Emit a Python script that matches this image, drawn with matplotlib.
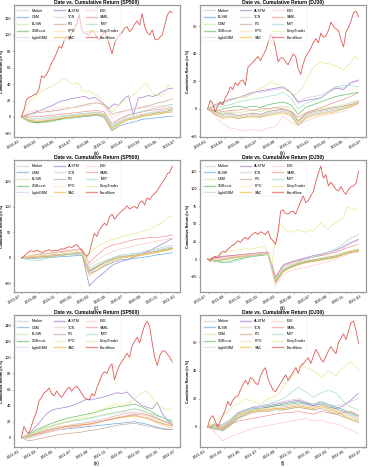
import matplotlib
matplotlib.use('Agg')
import matplotlib.pyplot as plt
import matplotlib.dates as mdates
from matplotlib.ticker import MultipleLocator
import pandas as pd

plt.rcParams['font.family'] = ['Liberation Sans', 'DejaVu Sans']

labels_sp = ['Market', 'CSM', 'BLSW', 'XGBoost', 'LightGBM', 'ALSTM', 'TCN', 'PG',
             'PPO', 'SAC', 'EIIE', 'SARL', 'IMIT', 'DeepTrader', 'EarnMore']
labels_dj = ['Market', 'BLSW', 'CSM', 'XGBoost', 'LightGBM', 'ALSTM', 'TCN', 'PG',
             'PPO', 'SAC', 'EIIE', 'SARL', 'IMIT', 'DeepTrader', 'EarnMore']

colors = ['#c8c8c8', '#5ba3d9', '#c2e699', '#55b755', '#d4c4e8', '#9b72c9', '#dcc8b8',
          '#c0a08a', '#fde4a6', '#f5b52e', '#fcc5c5', '#f28a86', '#98dcc4', '#e5e58a',
          '#d9473f']

# ---- (a) SP500 2018-01 .. 2019-06
a_vals = {
    'Market':   [0, -3, -6, -5, -3, -2, 0, 1, 2, 3, 4, 2, -15, -8, -4, -2, 1, 2, 4, 5, 7],
    'CSM':      [0, -4, -7, -6, -5, -3, -2, -1, 0, 1, 2, -1, -17, -11, -8, -6, -3, -2, -1, 0, 1],
    'BLSW':     [0, -5, -8, -7, -6, -4, -2, -1, 1, 2, 3, 1, -14, -7, -3, -1, 1, 3, 5, 6, 8],
    'XGBoost':  [0, -6, -7, -6, -4, -3, -1, 0, 1, 2, 3, 1, -13, -7, -3, -1, 2, 3, 5, 6, 9],
    'LightGBM': [0, -3, -5, -4, -2, -1, 1, 2, 3, 4, 5, 3, -12, -5, -2, 0, 3, 4, 6, 7, 10],
    'ALSTM':    [0, 2, 4, 6, 8, 11, 13, 16, 19, 20, 22, 23, 24, 25, 22, 24, 20, 15, 10, 16, 14,
                 22, 26, 2, 23, 24, 26, 25, 27, 31, 34, 35],
    'TCN':      [0, -2, -4, -3, -1, 0, 1, 2, 3, 4, 5, 3, -12, -5, -1, 1, 3, 5, 7, 8, 10],
    'PG':       [0, 3, 5, 6, 7, 8, 10, 12, 14, 16, 17, 15, 3, 6, 8, 10, 12, 14, 17, 19, 22],
    'PPO':      [0, -3, -5, -4, -3, -1, 0, 1, 2, 3, 4, 2, -14, -7, -3, -1, 1, 3, 4, 6, 7],
    'SAC':      [0, -4, -6, -5, -4, -2, -1, 0, 1, 2, 3, 1, -16, -9, -4, -2, 0, 2, 3, 5, 6],
    'EIIE':     [0, 6, 8, 7, 9, 10, 12, 11, 13, 14, 19, 12, -2, 4, 8, 10, 11, 12, 13, 14, 15],
    'SARL':     [0, 1, 0, 1, 2, 3, 4, 5, 6, 7, 8, 6, -8, -2, 2, 4, 6, 8, 9, 10, 12],
    'IMIT':     [0, -1, -2, -1, 0, 1, 2, 3, 4, 5, 6, 4, -10, -3, 1, 4, 7, 9, 11, 13, 15],
    'DeepTrader': [0, 10, 17, 22, 26, 30, 33, 35, 37, 40, 42, 47, 45, 41, 40, 42, 34, 30, 32, 28,
                   26, 23, 16, 12, 6, 12, 15, 19, 21, 25, 28, 32, 38, 42, 34, 28, 27, 25, 29, 39, 36],
    'EarnMore': [0, 8, 21, 24, 25, 27, 28, 34, 50, 48, 52, 58, 66, 71, 78, 86, 84, 93, 98, 94,
                 102, 108, 113, 125, 106, 102, 101, 100, 106, 103, 97, 94, 99, 104, 98, 88, 77,
                 89, 96, 100, 103, 108, 110, 104, 107, 113, 117, 112, 126, 110, 103, 100, 106,
                 95, 94, 97, 100, 112, 124, 129, 127],
}

# ---- (b) DJ30 2018-01 .. 2019-06
b_vals = {
    'Market':   [0, -3, -5, -4, -6, -5, -4, -5, -3, -2, -1, -3, -10, -5, -3, -2, -1, 0, 1, 3, 5],
    'BLSW':     [0, -4, -6, -5, -7, -6, -5, -6, -4, -3, -2, -4, -12, -6, -4, -3, -2, -1, 0, 2, 4],
    'CSM':      [0, -2, -3, -2, -3, -2, -1, -2, 0, 1, 2, 0, -8, -3, -1, 0, 1, 2, 3, 5, 6],
    'XGBoost':  [0, -2, 0, 1, 2, 1, 2, 1, 3, 4, 5, 3, -4, 1, 3, 5, 7, 9, 10, 11, 12],
    'LightGBM': [0, 2, 4, 6, 8, 9, 11, 12, 13, 14, 15, 12, 4, 8, 9, 10, 13, 16, 15, 19, 20],
    'ALSTM':    [0, 3, 5, 7, 8, 10, 12, 13, 14, 15, 16, 12, 5, 6, 7, 8, 12, 15, 14, 19, 21],
    'TCN':      [0, -3, -4, -3, -5, -4, -3, -4, -2, -1, 0, -2, -9, -4, -2, -1, 0, 1, 2, 4, 6],
    'PG':       [0, -2, -4, -3, -5, -4, -3, -4, -2, -1, 0, -2, -9, -4, -2, -1, 0, 1, 2, 3, 5],
    'PPO':      [0, -3, -6, -5, -7, -6, -5, -6, -4, -3, -2, -4, -11, -6, -4, -3, -2, -1, 1, 2, 4],
    'SAC':      [0, -4, -7, -6, -7, -6, -6, -6, -5, -4, -3, -5, -12, -7, -5, -4, -3, -2, 0, 2, 4],
    'EIIE':     [0, -5, -11, -14, -15, -16, -15, -16, -14, -13, -5, -10, -12, -9, -7, -5, -4, -3, -2, 1, 4],
    'SARL':     [0, -1, -2, -1, -1, 0, -1, 0, 0, 1, 0, -2, -6, -3, -1, 1, 3, 5, 7, 9, 12],
    'IMIT':     [0, 1, 2, 3, 5, 6, 7, 8, 9, 10, 12, 8, 0, 4, 6, 8, 12, 16, 17, 17, 16],
    'DeepTrader': [0, 2, 1, 4, 3, 5, 6, 7, 8, 9, 8, 10, 11, 13, 15, 16, 18, 20, 18, 17,
                   16, 13, 12, 10, 12, 15, 20, 25, 30, 32, 34, 33, 33, 32, 31, 30, 28, 31, 34, 38, 36],
    'EarnMore': [0, 6, 4, -2, 2, 5, 3, 8, 11, 16, 14, 19, 17, 20, 21, 17, 30, 32, 34, 36,
                 38, 35, 39, 42, 48, 54, 52, 44, 34, 37, 37, 34, 32, 36, 40, 38, 29, 25, 33, 38,
                 41, 44, 48, 51, 48, 55, 52, 53, 57, 63, 60, 58, 57, 50, 45, 56, 59, 64, 70, 71, 67],
}

# ---- (c) SP500 2019-07 .. 2020-12
c_vals = {
    'Market':   [0, 2, 3, 4, 5, 6, 8, 9, 10, -28, -20, -10, -4, 2, 3, 5, 7, 9, 12, 15, 18],
    'CSM':      [0, -2, -1, 0, 1, 2, 3, 4, 5, -30, -25, -16, -10, -4, -3, -1, 1, 3, 6, 8, 10],
    'BLSW':     [0, 1, 2, 3, 4, 5, 7, 8, 9, -26, -18, -9, -3, 1, 2, 4, 6, 8, 11, 14, 17],
    'XGBoost':  [0, 1, 3, 4, 5, 6, 7, 9, 10, -25, -17, -8, -3, 2, 3, 5, 8, 10, 13, 16, 19],
    'LightGBM': [0, 2, 3, 5, 6, 7, 9, 10, 11, -27, -19, -9, -2, 3, 4, 7, 9, 12, 16, 19, 22],
    'ALSTM':    [0, 1, 2, 3, 4, 5, 7, 8, 10, -55, -40, -28, -15, -8, -4, 2, 8, 14, 22, 30, 38],
    'TCN':      [0, 2, 3, 4, 6, 7, 8, 10, 11, -24, -16, -8, -2, 3, 4, 6, 9, 11, 14, 18, 21],
    'PG':       [0, 1, 2, 4, 5, 6, 8, 9, 10, -26, -18, -10, -4, 1, 3, 5, 7, 10, 13, 16, 19],
    'PPO':      [0, 1, 3, 4, 5, 6, 8, 9, 10, -29, -21, -11, -5, 1, 2, 4, 7, 9, 12, 15, 18],
    'SAC':      [0, 0, 1, 2, 3, 4, 6, 7, 8, -35, -25, -14, -7, -1, 1, 3, 5, 8, 11, 14, 17],
    'EIIE':     [0, 3, 5, 7, 9, 10, 12, 14, 16, -15, -5, 5, 12, 17, 20, 24, 27, 30, 33, 36, 39],
    'SARL':     [0, 4, 7, 9, 10, 12, 14, 16, 18, -10, 5, 18, 25, 28, 32, 36, 38, 40, 40, 42, 45],
    'IMIT':     [0, -4, -6, -3, 2, 4, 6, 7, 8, -20, -12, -5, 0, 5, 7, 9, 12, 15, 18, 22, 25],
    'DeepTrader': [0, 2, 4, 5, 6, 5, 7, 8, 8, 9, 10, 11, 12, 13, 14, 12, 10, -5, 8, 15,
                   22, 26, 30, 34, 36, 38, 40, 42, 44, 46, 48, 50, 52, 54, 56, 60, 64, 68, 74, 80, 82],
    'EarnMore': [0, 3, 8, 12, 14, 12, 15, 13, 11, 12, 14, 16, 13, 15, 14, 16, 18, 17, 20, 22,
                 20, 24, 26, 20, 14, 8, 3, 10, 30, 48, 42, 55, 62, 68, 64, 80, 86, 76, 82, 88,
                 93, 96, 102, 96, 99, 101, 97, 108, 112, 104, 118, 114, 122, 126, 132, 140, 148,
                 155, 165, 168, 180],
}

# ---- (d) DJ30 2019-07 .. 2020-12
d_vals = {
    'Market':   [0, -2, 0, 2, 4, 5, 6, 7, 8, -30, -15, -10, -6, -3, -1, 0, 2, 4, 8, 11, 13],
    'BLSW':     [0, -3, -1, 1, 3, 4, 5, 6, 7, -32, -17, -11, -7, -4, -2, -1, 1, 3, 7, 10, 12],
    'CSM':      [0, -4, -2, 0, 2, 3, 4, 5, 6, -33, -18, -12, -8, -5, -3, -2, 0, 2, 6, 9, 11],
    'XGBoost':  [0, -3, -5, -3, 0, 2, 4, 5, 7, -30, -16, -10, -6, -3, -1, 1, 3, 5, 9, 12, 14],
    'LightGBM': [0, 1, 3, 4, 5, 6, 7, 8, 9, -28, -12, -6, -2, 1, 3, 5, 8, 11, 16, 22, 26],
    'ALSTM':    [0, 2, 4, 5, 6, 7, 8, 9, 10, -26, -8, -4, -1, 2, 5, 7, 10, 13, 18, 24, 28],
    'TCN':      [0, -1, 1, 3, 4, 5, 6, 7, 8, -31, -16, -11, -7, -4, -2, 0, 2, 4, 8, 11, 13],
    'PG':       [0, -2, 0, 2, 3, 4, 5, 6, 7, -32, -17, -12, -8, -5, -3, -1, 1, 3, 7, 10, 12],
    'PPO':      [0, -1, 1, 3, 5, 6, 7, 8, 9, -29, -15, -9, -5, -2, 0, 2, 4, 6, 9, 12, 14],
    'SAC':      [0, -3, -1, 1, 3, 4, 5, 6, 7, -34, -18, -12, -8, -5, -3, -1, 1, 3, 7, 10, 12],
    'EIIE':     [0, -2, 0, 1, 3, 4, 5, 6, 7, -38, -22, -16, -14, -12, -9, -6, -3, 0, 4, 8, 10],
    'SARL':     [0, 1, 3, 5, 6, 7, 8, 9, 10, -25, -10, -5, -2, 0, 3, 5, 7, 10, 14, 18, 21],
    'IMIT':     [0, -2, -4, -5, -2, 2, 4, 6, 8, -30, -14, -8, -4, 0, 3, 6, 10, 15, 22, 30, 35],
    'DeepTrader': [0, 2, 4, 5, 8, 10, 12, 11, 13, 14, 15, 14, 15, 16, 17, 18, 10, -8, 30, 50,
                   45, 40, 38, 40, 42, 40, 38, 41, 40, 45, 52, 46, 42, 48, 52, 55, 58, 75, 72, 70, 73],
    'EarnMore': [0, -3, 2, 4, 2, 8, 11, 10, 14, 17, 20, 22, 26, 24, 28, 31, 28, 33, 36, 38,
                 35, 39, 37, 35, 40, 30, 26, 21, 38, 68, 70, 65, 64, 67, 68, 64, 73, 82, 90, 80,
                 83, 90, 96, 110, 122, 132, 115, 120, 104, 109, 104, 99, 97, 103, 96, 92, 99,
                 103, 104, 108, 125],
}

# ---- (e) SP500 2021-01 .. 2022-06
e_vals = {
    'Market':   [0, 2, 6, 9, 12, 14, 15, 17, 18, 19, 21, 22, 24, 26, 27, 28, 26, 24, 20, 17, 15],
    'CSM':      [0, 1, 4, 6, 8, 10, 11, 12, 13, 14, 15, 16, 17, 18, 19, 20, 18, 16, 13, 11, 10],
    'BLSW':     [0, 3, 8, 12, 15, 18, 20, 22, 23, 25, 27, 29, 31, 33, 34, 36, 33, 30, 25, 21, 18],
    'XGBoost':  [0, 4, 10, 14, 18, 21, 24, 26, 28, 30, 32, 35, 37, 39, 40, 42, 38, 34, 28, 24, 20],
    'LightGBM': [0, 2, 5, 8, 11, 13, 15, 16, 18, 20, 22, 24, 26, 28, 30, 32, 30, 27, 23, 20, 18],
    'ALSTM':    [0, 3, 8, 15, 22, 30, 34, 36, 37, 38, 40, 42, 45, 48, 47, 49, 50, 52, 54, 56,
                 55, 57, 50, 45, 40, 38, 36, 44, 30, 22, 16],
    'TCN':      [0, -1, 2, 5, 8, 10, 12, 14, 15, 17, 19, 21, 23, 25, 27, 28, 26, 24, 20, 17, 15],
    'PG':       [0, -4, -2, 0, 2, 4, 5, 6, 7, 9, 10, 12, 14, 16, 17, 18, 16, 14, 12, 10, 10],
    'PPO':      [0, 2, 5, 8, 11, 13, 15, 16, 17, 18, 20, 22, 24, 26, 28, 30, 28, 26, 22, 19, 17],
    'SAC':      [0, 1, 4, 7, 10, 12, 14, 15, 16, 17, 19, 21, 23, 25, 26, 27, 25, 23, 19, 16, 14],
    'EIIE':     [0, 1, 3, 6, 8, 10, 12, 13, 14, 15, 18, 22, 26, 30, 32, 30, 26, 22, 18, 14, 12],
    'SARL':     [0, 2, 5, 8, 10, 12, 14, 15, 16, 17, 19, 21, 23, 25, 27, 29, 30, 28, 24, 20, 16],
    'IMIT':     [0, 3, 7, 11, 14, 17, 19, 21, 22, 24, 26, 28, 30, 32, 34, 36, 34, 31, 27, 24, 22],
    'DeepTrader': [0, 2, 4, 6, 8, 10, 12, 14, 15, 17, 16, 18, 20, 21, 22, 24, 25, 26, 28, 30,
                   33, 35, 36, 38, 40, 42, 41, 40, 43, 45, 48, 52, 56, 58, 54, 48, 42, 38, 36, 35, 36],
    'EarnMore': [0, 14, 8, 5, 15, 24, 32, 46, 50, 56, 58, 62, 55, 52, 58, 54, 50, 55, 60, 63,
                 58, 62, 64, 60, 55, 50, 48, 47, 55, 52, 62, 70, 78, 82, 80, 88, 92, 72, 82, 90,
                 95, 100, 105, 100, 114, 120, 125, 118, 130, 140, 145, 138, 118, 100, 90, 102,
                 108, 108, 104, 100, 94],
}

# ---- (f) DJ30 2021-01 .. 2022-06
f_vals = {
    'Market':   [0, 1, -1, 3, 8, 10, 12, 12, 13, 14, 14, 15, 16, 15, 14, 16, 14, 12, 10, 8, 6],
    'BLSW':     [0, 2, 0, 4, 9, 11, 13, 13, 14, 15, 15, 16, 17, 16, 15, 17, 15, 13, 11, 9, 7],
    'CSM':      [0, 0, -2, 2, 7, 9, 11, 11, 12, 13, 12, 13, 14, 13, 12, 14, 12, 10, 8, 6, 4],
    'XGBoost':  [0, -1, -3, 1, 6, 9, 12, 13, 14, 15, 16, 17, 18, 17, 16, 18, 16, 14, 12, 10, 8],
    'LightGBM': [0, 1, 0, 4, 9, 12, 14, 15, 16, 17, 18, 19, 20, 18, 16, 18, 16, 15, 16, 18, 20],
    'ALSTM':    [0, 2, 1, 5, 10, 12, 14, 14, 15, 16, 17, 18, 19, 17, 15, 16, 14, 13, 15, 19, 24],
    'TCN':      [0, 1, -1, 3, 7, 9, 11, 12, 12, 13, 13, 14, 15, 14, 13, 15, 13, 11, 9, 7, 5],
    'PG':       [0, 0, -2, 2, 6, 8, 10, 11, 11, 12, 12, 13, 14, 13, 12, 13, 11, 9, 7, 5, 3],
    'PPO':      [0, 2, 1, 5, 9, 11, 12, 13, 13, 14, 15, 16, 16, 15, 14, 16, 14, 12, 10, 8, 7],
    'SAC':      [0, 1, -1, 3, 8, 10, 11, 12, 12, 13, 13, 14, 15, 14, 13, 15, 13, 11, 8, 5, 4],
    'EIIE':     [0, -4, -10, -7, -5, -3, -1, 0, 1, 2, 3, 4, 5, 6, 4, 5, 3, 2, 0, -2, -5],
    'SARL':     [0, -2, -1, 2, 4, 5, 6, 7, 8, 9, 10, 10, 11, 10, 9, 11, 10, 9, 10, 11, 8],
    'IMIT':     [0, 1, 2, 5, 9, 12, 14, 15, 16, 18, 20, 24, 28, 25, 21, 24, 26, 24, 18, 14, 12],
    'DeepTrader': [0, 2, 4, 6, 8, 10, 13, 15, 16, 18, 20, 19, 18, 17, 16, 18, 20, 21, 22, 24,
                   28, 32, 35, 38, 42, 45, 42, 41, 40, 38, 35, 37, 40, 38, 36, 40, 42, 45, 46, 43, 40],
    'EarnMore': [0, 6, 8, 4, 0, 4, 8, 12, 18, 15, 19, 21, 22, 26, 30, 33, 30, 35, 34, 31,
                 30, 36, 40, 42, 34, 30, 26, 25, 28, 31, 34, 37, 33, 36, 39, 42, 38, 43, 45, 47,
                 49, 45, 50, 55, 52, 48, 46, 50, 54, 57, 54, 52, 60, 63, 66, 62, 68, 74, 75, 68, 59],
}

panels = [
    (a_vals, labels_sp, 'SP500', '2018-01-02', '2019-06-18', 20, '(a)'),
    (b_vals, labels_dj, 'DJ30', '2018-01-02', '2019-06-18', 20, '(b)'),
    (c_vals, labels_sp, 'SP500', '2019-07-01', '2020-12-16', 50, '(c)'),
    (d_vals, labels_dj, 'DJ30', '2019-07-01', '2020-12-16', 25, '(d)'),
    (e_vals, labels_sp, 'SP500', '2021-01-04', '2022-06-16', 20, '(e)'),
    (f_vals, labels_dj, 'DJ30', '2021-01-04', '2022-06-16', 20, '(f)'),
]

fig = plt.figure(figsize=(3.74, 4.67), dpi=100)
lefts = [0.037, 0.535]
bottoms = [0.707, 0.375, 0.043]

for k, (vals, labels, market, start, end, ystep, tag) in enumerate(panels):
    ax = fig.add_axes([lefts[k % 2], bottoms[k // 2], 0.444, 0.282])
    for i, name in enumerate(labels):
        y = vals[name]
        x = pd.date_range(start, end, periods=len(y))
        lw = 0.6 if name == 'EarnMore' else 0.5
        ax.plot(x, y, color=colors[i], lw=lw, alpha=0.9, label=name)

    ax.set_title('Date vs. Cumulative Return (' + market + ')', fontsize=3.6,
                 fontweight='bold', pad=1.0)
    ax.set_ylabel('Cumulative Return (in %)', fontsize=2.6, fontweight='bold')
    ax.yaxis.set_label_coords(-0.058, 0.5)
    ax.set_xlabel(tag, fontsize=3.4, labelpad=0.5)
    ax.yaxis.set_major_locator(MultipleLocator(ystep))
    ax.xaxis.set_major_locator(mdates.MonthLocator(bymonth=[1, 3, 5, 7, 9, 11]))
    ax.xaxis.set_major_formatter(mdates.DateFormatter('%Y-%m'))
    ax.tick_params(axis='both', labelsize=2.8, length=1, width=0.4, pad=1)
    for lab in ax.get_xticklabels():
        lab.set_rotation(30)
        lab.set_ha('right')
    for s in ax.spines.values():
        s.set_color('#999999')
        s.set_linewidth(0.9)

    leg = ax.legend(loc='upper left', ncol=3, fontsize=2.6, labelspacing=0.75,
                    handlelength=3.0, handletextpad=1.0, columnspacing=1.6,
                    borderpad=0.5, framealpha=0.6, edgecolor='#dddddd', fancybox=False)
    leg.get_frame().set_linewidth(0.3)
    for h in leg.get_lines():
        h.set_linewidth(1.0)
        h.set_alpha(0.6)

fig.savefig('out.png', dpi=100)
